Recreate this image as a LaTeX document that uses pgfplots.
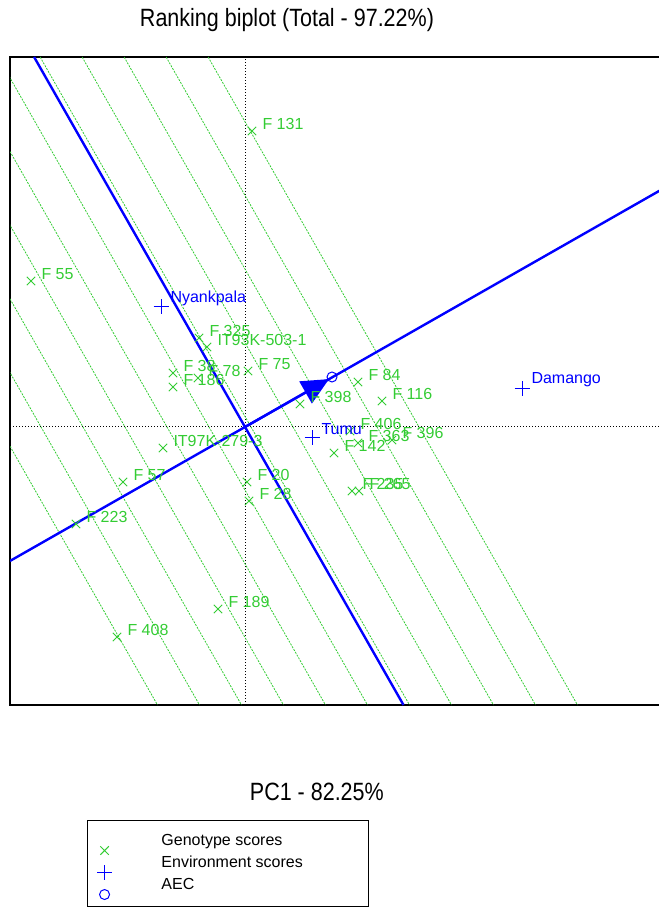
\documentclass[border=0pt]{standalone}
\usepackage{pgfplots}
\pgfplotsset{compat=1.18}
\usepackage{pgfplotstable}
\usepackage{graphicx}
\usepackage{fontspec}
\setmainfont{Liberation Sans}
\usetikzlibrary{arrows.meta}
\definecolor{gcol}{RGB}{51,204,51}
\definecolor{bcol}{RGB}{0,0,255}

\pgfplotstableread[col sep=comma]{
x,y,label
0.07,2.96,F 131
-2.14,1.46,F 55
-0.46,0.89,F 325
-0.38,0.80,IT93K-503-1
-0.72,0.54,F 38
-0.72,0.40,F 186
-0.47,0.49,F 78
0.03,0.56,F 75
0.55,0.23,F 398
1.13,0.45,F 84
1.37,0.26,F 116
1.05,-0.04,F 406
1.13,-0.16,F 363
1.47,-0.13,F 396
0.89,-0.26,F 142
1.07,-0.64,F 235
1.14,-0.64,F 265
-0.82,-0.21,IT97K-279-3
-1.22,-0.55,F 57
0.02,-0.55,F 20
0.04,-0.74,F 28
-1.69,-0.97,F 223
-0.27,-1.82,F 189
-1.28,-2.10,F 408
}\genotypes

\pgfplotstableread[col sep=comma]{
x,y,label
-0.84,1.20,Nyankpala
2.77,0.38,Damango
0.67,-0.11,Tumu
}\environments

\begin{document}
\begin{tikzpicture}
\begin{axis}[
  x=50pt, y=50pt,
  xmin=-2.35, xmax=4.35, ymin=-2.78, ymax=3.70,
  xtick=\empty, ytick=\empty,
  axis line style={line width=1.2pt},
  title={\fontsize{12.5}{15}\selectfont\scalebox{0.86}[1]{Ranking biplot (Total - 97.22\%)}},
  title style={at={(axis description cs:0.4134,1.0385)}, anchor=center, inner sep=0pt},
  xlabel={\fontsize{12.5}{15}\selectfont\scalebox{0.86}[1]{PC1 - 82.25\%}},
  xlabel style={at={(axis description cs:0.458,-0.134)}, anchor=center, inner sep=0pt},
  legend cell align=left,
  legend image post style={yshift=-4.5pt, overlay},
  legend style={at={(axis description cs:0.1149,-0.1775)}, anchor=north west,
    draw=black, line width=0.5pt, inner xsep=0pt, inner ysep=5pt,
    font=\fontsize{8}{9}\selectfont,
    nodes={inner xsep=0pt, inner ysep=1.5pt, text height=6pt, text depth=2pt},
    row sep=0pt},
]
\coordinate (tl) at (axis cs:-2.45,4.27);
\coordinate (br) at (axis cs:4.13,-4.82);

% dotted origin axes
\addplot[black, densely dotted, line width=0.5pt, forget plot] coordinates {(-2.35,0) (4.35,0)};
\addplot[black, densely dotted, line width=0.5pt, forget plot] coordinates {(0,-2.78) (0,3.70)};

% green ranking lines perpendicular to the AEC abscissa
\pgfplotsset{rankline/.style={gcol, line width=0.4pt, dash pattern=on 1pt off 0.6pt, forget plot}}
\addplot[rankline] coordinates {(-4.569,3.70) (-0.875,-2.78)};
\addplot[rankline] coordinates {(-4.149,3.70) (-0.455,-2.78)};
\addplot[rankline] coordinates {(-3.729,3.70) (-0.035,-2.78)};
\addplot[rankline] coordinates {(-3.309,3.70) (0.385,-2.78)};
\addplot[rankline] coordinates {(-2.889,3.70) (0.805,-2.78)};
\addplot[rankline] coordinates {(-2.469,3.70) (1.225,-2.78)};
\addplot[rankline] coordinates {(-2.049,3.70) (1.645,-2.78)};
\addplot[rankline] coordinates {(-1.629,3.70) (2.065,-2.78)};
\addplot[rankline] coordinates {(-1.209,3.70) (2.485,-2.78)};
\addplot[rankline] coordinates {(-0.789,3.70) (2.905,-2.78)};
\addplot[rankline] coordinates {(-0.369,3.70) (3.325,-2.78)};

% genotypes
\addplot[only marks, mark=x, mark size=3pt, gcol, line width=0.5pt,
  point meta=explicit symbolic, nodes near coords,
  nodes near coords style={anchor=west, xshift=5pt, yshift=3.5pt, inner sep=0pt,
    text=gcol, font=\fontsize{8}{9}\selectfont}]
  table[x=x, y=y, meta=label] {\genotypes};

% AEC abscissa and ordinate
\addplot[bcol, line width=1.2pt, forget plot] coordinates {(-2.35,-1.3395) (4.35,2.4795)};
\addplot[bcol, line width=1.2pt, forget plot] coordinates {(-2.109,3.70) (1.585,-2.78)};
\addplot[bcol, line width=1.2pt, -{Triangle[length=13.5pt, width=12.5pt]}, forget plot]
  coordinates {(0,0) (0.84,0.479)};

% environments
\addplot[only marks, mark=+, mark size=3.75pt, bcol, line width=0.5pt,
  point meta=explicit symbolic, nodes near coords,
  nodes near coords style={anchor=west, xshift=4.5pt, yshift=4.5pt, inner sep=0pt,
    text=bcol, font=\fontsize{8}{9}\selectfont}]
  table[x=x, y=y, meta=label] {\environments};

% AEC
\addplot[only marks, mark=o, mark size=2.5pt, bcol, line width=0.5pt] coordinates {(0.87,0.50)};

\legend{\makebox[140.5pt][l]{\hspace*{37pt}Genotype scores},
        \makebox[140.5pt][l]{\hspace*{37pt}Environment scores},
        \makebox[140.5pt][l]{\hspace*{37pt}AEC}}
\end{axis}
\pgfresetboundingbox
\useasboundingbox (tl) rectangle (br);
\end{tikzpicture}
\end{document}
